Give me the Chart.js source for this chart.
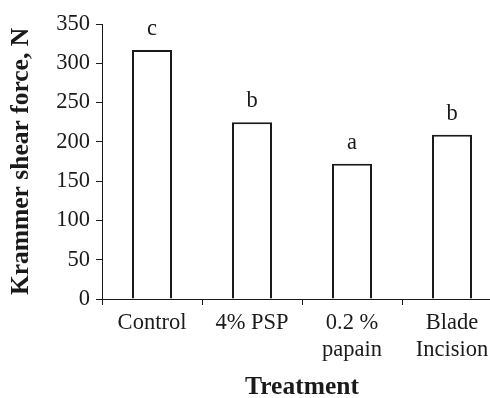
<!DOCTYPE html>
<html>
<head>
<meta charset="utf-8">
<script src="https://cdn.jsdelivr.net/npm/chart.js@4.4.1/dist/chart.umd.min.js"></script>
<style>
  html, body { margin: 0; padding: 0; background: #fff; overflow: hidden; }
  #wrap { width: 490px; height: 398px; overflow: hidden; }
  #box { width: 512px; height: 398px; }
</style>
</head>
<body>
<div id="wrap"><div id="box"><canvas id="chart"></canvas></div></div>
<script>
// Krammer shear force by treatment
const categories = [['Control'], ['4% PSP'], ['0.2 %', 'papain'], ['Blade', 'Incision']];
const shearForce = [317, 225, 172, 209];
const letters = ['c', 'b', 'a', 'b'];
const yTicks = [0, 50, 100, 150, 200, 250, 300, 350];

const FONT = "'Liberation Serif', 'Times New Roman', serif";
const INK = '#1a1a1a';

const letterLabels = {
  id: 'letterLabels',
  afterDatasetsDraw(chart) {
    const ctx = chart.ctx;
    const meta = chart.getDatasetMeta(0);
    ctx.save();
    ctx.font = `22.5px ${FONT}`;
    ctx.fillStyle = INK;
    ctx.textAlign = 'center';
    ctx.textBaseline = 'alphabetic';
    meta.data.forEach((bar, i) => {
      ctx.fillText(letters[i], bar.x, bar.y - 15);
    });
    ctx.restore();
  }
};

new Chart(document.getElementById('chart'), {
  type: 'bar',
  data: {
    labels: categories,
    datasets: [{
      data: shearForce,
      backgroundColor: '#fff',
      borderColor: INK,
      borderWidth: 2,
      barPercentage: 0.4,
      categoryPercentage: 1
    }]
  },
  options: {
    responsive: true,
    maintainAspectRatio: false,
    animation: false,
    layout: { padding: { top: 24, right: 10, bottom: 0, left: 0 } },
    plugins: { legend: { display: false }, tooltip: { enabled: false } },
    scales: {
      x: {
        afterFit: s => { s.height = 99; },
        grid: { offset: true, drawOnChartArea: false, tickLength: 6, color: INK, lineWidth: 1 },
        border: { display: true, color: INK, width: 1 },
        ticks: { color: INK, padding: 5, maxRotation: 0, font: { family: FONT, size: 22.5, lineHeight: 1.2 } },
        title: {
          display: true, text: 'Treatment', color: INK,
          font: { family: FONT, size: 25.5, weight: 'bold', lineHeight: 0.8 },
          padding: { top: 0, bottom: 0 }
        }
      },
      y: {
        min: 0, max: 350,
        afterFit: s => { s.width = 102; },
        afterBuildTicks: s => { s.ticks = yTicks.map(v => ({ value: v })); },
        grid: { drawOnChartArea: false, tickLength: 6, color: INK, lineWidth: 1 },
        border: { display: true, color: INK, width: 1 },
        ticks: { color: INK, padding: 6, font: { family: FONT, size: 22.5 } },
        title: {
          display: true, text: 'Krammer shear force, N', color: INK,
          font: { family: FONT, size: 25.5, weight: 'bold', lineHeight: 1 },
          padding: { top: 9, bottom: 0 }
        }
      }
    }
  },
  plugins: [letterLabels]
});
</script>
</body>
</html>
